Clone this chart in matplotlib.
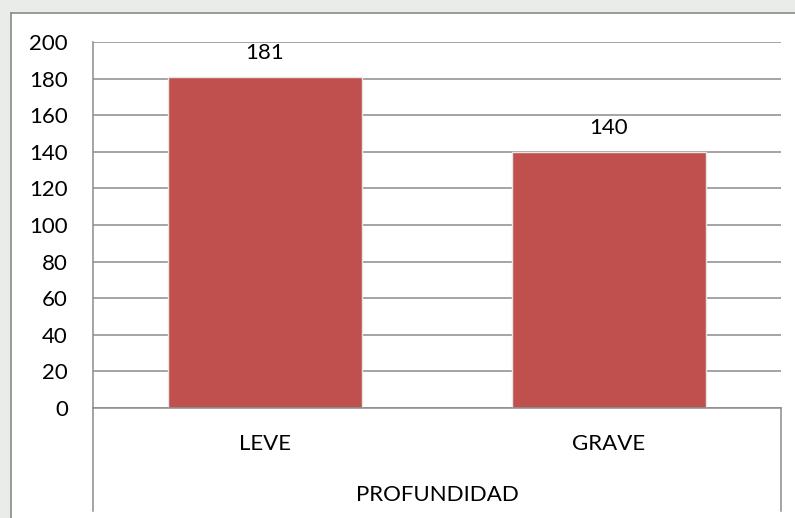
import matplotlib.pyplot as plt
from matplotlib.lines import Line2D
from matplotlib.patches import Rectangle

categorias = ["LEVE", "GRAVE"]
valores = [181, 140]
titulo_eje = "PROFUNDIDAD"
yticks = list(range(0, 201, 20))

W, H = 795, 518
plt.rcParams['font.family'] = ['Lato', 'DejaVu Sans']

fig = plt.figure(figsize=(W / 100, H / 100), dpi=100)
fig.patch.set_facecolor('white')


def fx(px):
    return px / W


def fy(py):
    return 1 - py / H


# faint watermark-like gray outside the chart box
fig.patches.append(Rectangle((0, fy(13)), 1, 1 - fy(13), transform=fig.transFigure,
                             facecolor='#e9ece8', edgecolor='none', zorder=0))
fig.patches.append(Rectangle((0, 0), fx(11), fy(13), transform=fig.transFigure,
                             facecolor='#e9ece8', edgecolor='none', zorder=0))
# chart box border
fig.lines.append(Line2D([fx(11), 1], [fy(13), fy(13)], transform=fig.transFigure,
                        color='#8a8a8a', lw=1.2))
fig.lines.append(Line2D([fx(11), fx(11)], [0, fy(13)], transform=fig.transFigure,
                        color='#8a8a8a', lw=1.2))

ax = fig.add_axes([fx(93), fy(408), fx(781) - fx(93), fy(42) - fy(408)])
x = list(range(len(categorias)))
bars = ax.bar(x, valores, width=0.565, color='#C0504D', edgecolor='#e6e6e6',
              linewidth=1.0, zorder=3)
ax.set_xlim(-0.5, len(categorias) - 0.5)
ax.set_ylim(0, 200)
ax.set_yticks(yticks)
ax.yaxis.grid(True, color='#8c8c8c', lw=1.1, zorder=0)
ax.set_axisbelow(True)
for s in ['top', 'right', 'bottom']:
    ax.spines[s].set_visible(False)
ax.spines['left'].set_color('#8c8c8c')
ax.spines['left'].set_linewidth(1.1)
ax.tick_params(axis='y', length=0, pad=18, labelsize=16)
ax.tick_params(axis='x', length=0, pad=19, labelsize=16)
ax.set_xticks(x)
ax.set_xticklabels(categorias)

for b, v in zip(bars, valores):
    ax.annotate(str(v), (b.get_x() + b.get_width() / 2, v), xytext=(0, 10),
                textcoords='offset points', ha='center', va='bottom', fontsize=16)

# category axis lines below plot
fig.lines.append(Line2D([fx(93), fx(93)], [fy(511), fy(408)], transform=fig.transFigure,
                        color='#8c8c8c', lw=1.1))
fig.lines.append(Line2D([fx(781), fx(781)], [fy(511), fy(408)], transform=fig.transFigure,
                        color='#8c8c8c', lw=1.1))
fig.lines.append(Line2D([fx(93), fx(781)], [fy(408), fy(408)], transform=fig.transFigure,
                        color='#8c8c8c', lw=1.1))
fig.text(fx(437), fy(495), titulo_eje, ha='center', va='center', fontsize=16)

fig.savefig('out.png', dpi=100)
